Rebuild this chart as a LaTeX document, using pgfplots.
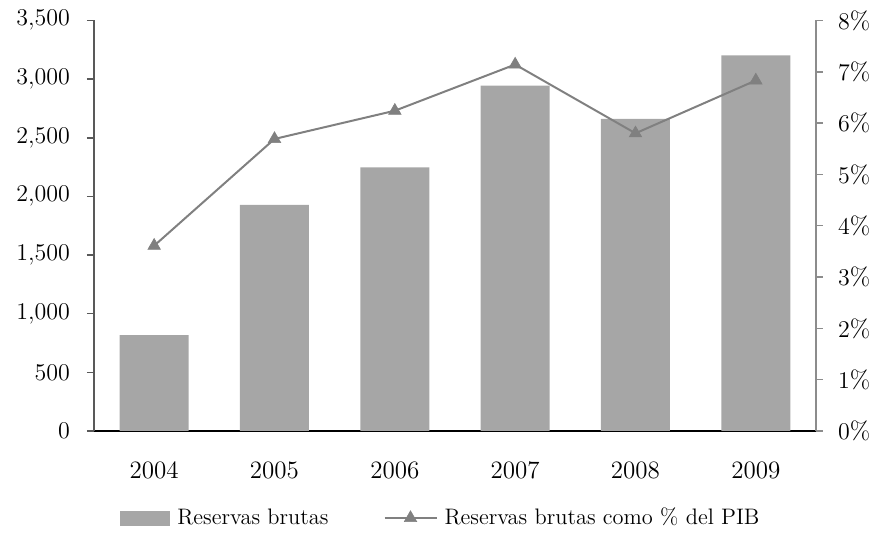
\documentclass[border=0pt]{standalone}
\usepackage{pgfplots}
\pgfplotsset{compat=1.18}
\definecolor{barfill}{HTML}{A6A6A6}
\definecolor{linegray}{HTML}{808080}
\definecolor{leftaxis}{HTML}{595959}
\definecolor{rightaxis}{HTML}{8C8C8C}
\pgfplotsset{
  barlegend/.style={legend image code/.code={\fill[##1] (0pt,-3.75pt) rectangle (25pt,3.75pt);}},
  trilegend/.style={legend image code/.code={\draw[##1, mark repeat=2, mark phase=2]
    plot coordinates {(0pt,0pt) (13pt,0pt) (26pt,0pt)};}},
}
\begin{document}
\begin{tikzpicture}
\useasboundingbox (-47pt,-51pt) rectangle (390.5pt,215.5pt);
\pgfplotsset{
  every axis/.append style={font=\fontsize{12.5}{15}\selectfont},
  common/.style={
    scale only axis, width=361pt, height=205.3pt,
    xmin=-0.5, xmax=5.5, ymin=0,
    tick align=outside, major tick length=3.5pt, minor tick length=3.5pt,
    axis line style={-},
  },
}
% reservas brutas (bars, left axis)
\begin{axis}[common,
  ymax=3500, ytick={0,500,...,3500},
  axis y line*=left, axis x line*=bottom,
  y axis line style={leftaxis, line width=0.8pt},
  x axis line style={black, line width=0.8pt},
  ytick style={leftaxis, line width=0.8pt},
  yticklabel style={xshift=-5pt},
  xtick={0,...,5}, xticklabels={2004,2005,2006,2007,2008,2009},
  xtick style={draw=none},
  minor xtick={-0.5,0.5,...,5.5},
  minor x tick style={black, line width=0.8pt},
  xticklabel style={yshift=-8.5pt},
]
\addplot[ybar, bar width=34.5pt, bar shift=0pt, fill=barfill, draw=none]
  coordinates {(0,818) (1,1928) (2,2248) (3,2943) (4,2660) (5,3202)};
\end{axis}
% reservas como % del PIB (line, right axis)
\begin{axis}[common,
  ymax=8, ytick={0,1,...,8},
  axis y line*=right, axis x line=none,
  y axis line style={rightaxis, line width=0.8pt},
  ytick style={rightaxis, line width=0.8pt},
  yticklabel style={xshift=4pt},
  yticklabel={$\pgfmathprintnumber{\tick}$\%},
  legend style={draw=none, fill=none, at={(0.484,-0.212)}, anchor=center,
    font=\fontsize{11.2}{13}\selectfont,
    nodes={inner xsep=3.5pt},
    legend columns=2, /tikz/every even column/.append style={column sep=24pt}},
  legend cell align=left,
]
\addlegendimage{fill=barfill, draw=none, barlegend}
\addlegendentry{Reservas brutas}
\addplot[color=linegray, line width=1pt, mark=triangle*, mark size=3.6pt,
  mark options={fill=linegray, draw=linegray, line width=0.3pt}, trilegend]
  coordinates {(0,3.61) (1,5.69) (2,6.24) (3,7.14) (4,5.80) (5,6.83)};
\addlegendentry{Reservas brutas como \% del PIB}
\end{axis}
\end{tikzpicture}
\end{document}
